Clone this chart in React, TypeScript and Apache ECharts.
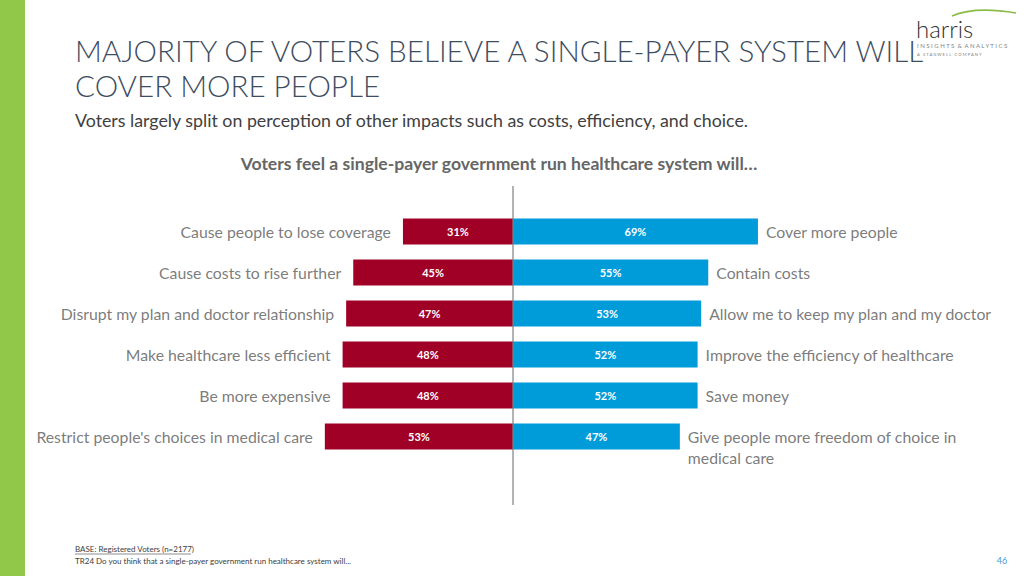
import React, { useEffect, useRef } from "react";
import * as echarts from "echarts";

const leftLabels = [
  "Cause people to lose coverage",
  "Cause costs to rise further",
  "Disrupt my plan and doctor relationship",
  "Make healthcare less efficient",
  "Be more expensive",
  "Restrict people's choices in medical care",
];
const rightLabels = [
  "Cover more people",
  "Contain costs",
  "Allow me to keep my plan and my doctor",
  "Improve the efficiency of healthcare",
  "Save money",
  "Give people more freedom of choice in\nmedical care",
];
const negativeValues = [31, 45, 47, 48, 48, 53];
const positiveValues = [69, 55, 53, 52, 52, 47];

const TITLE_1 = "MAJORITY OF VOTERS BELIEVE A SINGLE-PAYER SYSTEM WILL";
const TITLE_2 = "COVER MORE PEOPLE";
const SUBTITLE = "Voters largely split on perception of other impacts such as costs, efficiency, and choice.";
const CHART_TITLE = "Voters feel a single-payer government run healthcare system will…";
const BASE_NOTE = "BASE: Registered Voters (n=2177)";
const QUESTION_NOTE = "TR24 Do you think that a single-payer government run healthcare system will...";
const PAGE_NO = "46";

const FONT = "Lato, 'Open Sans', sans-serif";
const RED = "#A00026";
const BLUE = "#009CDA";
const GREY_TXT = "#595959";

const X_MIN = -100;
const X_MAX = 100;
const GRID_LEFT = 158;
const GRID_RIGHT = 156;
const W = 1024;
const H = 576;

export default function App() {
  const ref = useRef<HTMLDivElement>(null);
  useEffect(() => {
    if (!ref.current) return;
    const chart = echarts.init(ref.current, undefined, { renderer: "svg" });
    const plotW = W - GRID_LEFT - GRID_RIGHT;
    const zeroX = GRID_LEFT + ((0 - X_MIN) / (X_MAX - X_MIN)) * plotW;
    const cats = leftLabels.map((_, i) => String(i));

    chart.setOption({
      animation: false,
      backgroundColor: "#ffffff",
      grid: { left: GRID_LEFT, right: GRID_RIGHT, top: 211, bottom: 119 },
      xAxis: {
        type: "value",
        min: X_MIN,
        max: X_MAX,
        show: false,
      },
      yAxis: {
        type: "category",
        data: cats,
        inverse: true,
        show: false,
      },
      series: [
        {
          type: "bar",
          name: "neg",
          stack: "s",
          barWidth: 26,
          data: negativeValues.map((v) => -v),
          itemStyle: { color: RED },
          label: {
            show: true,
            position: "inside",
            color: "#fff",
            fontWeight: "bold",
            fontSize: 11,
            fontFamily: FONT,
            formatter: (p: any) => Math.abs(p.value) + "%",
          },
        },
        {
          type: "bar",
          name: "pos",
          stack: "s",
          barWidth: 26,
          data: positiveValues,
          itemStyle: { color: BLUE },
          label: {
            show: true,
            position: "inside",
            color: "#fff",
            fontWeight: "bold",
            fontSize: 11,
            fontFamily: FONT,
            formatter: (p: any) => p.value + "%",
          },
        },
        {
          type: "scatter",
          symbolSize: 0,
          silent: true,
          data: negativeValues.map((v, i) => [-v, i]),
          label: {
            show: true,
            position: "left",
            distance: 12,
            color: GREY_TXT,
            fontSize: 15.8,
            fontFamily: FONT,
            formatter: (p: any) => leftLabels[p.dataIndex],
          },
        },
        {
          type: "scatter",
          symbolSize: 0,
          silent: true,
          data: positiveValues.map((v, i) => {
            const multi = rightLabels[i].includes("\n");
            return multi
              ? { value: [v, i], label: { offset: [0, 10] } }
              : { value: [v, i] };
          }),
          label: {
            show: true,
            position: "right",
            distance: 8,
            align: "left",
            color: GREY_TXT,
            fontSize: 15.8,
            lineHeight: 21,
            fontFamily: FONT,
            formatter: (p: any) => rightLabels[p.dataIndex],
          },
        },
      ],
      graphic: [
        { type: "rect", shape: { x: 0, y: 0, width: 25, height: H }, style: { fill: "#92C84A" } },
        {
          type: "line",
          shape: { x1: zeroX, y1: 186, x2: zeroX, y2: 505 },
          style: { stroke: "#808080", lineWidth: 1.2 },
          z: 10,
        },
        {
          type: "text",
          x: 75,
          y: 50,
          style: { text: TITLE_1, font: `300 29.6px ${FONT}`, fill: "#3E4C60", verticalAlign: "middle" },
        },
        {
          type: "text",
          x: 75,
          y: 85,
          style: { text: TITLE_2, font: `300 29.6px ${FONT}`, fill: "#3E4C60", verticalAlign: "middle" },
        },
        {
          type: "text",
          x: 75,
          y: 120,
          style: { text: SUBTITLE, font: `17.8px ${FONT}`, fill: "#404040", verticalAlign: "middle" },
        },
        {
          type: "text",
          x: 499,
          y: 163,
          style: {
            text: CHART_TITLE,
            font: `bold 17.6px ${FONT}`,
            fill: "#666666",
            align: "center",
            verticalAlign: "middle",
          },
        },
        {
          type: "text",
          x: 75,
          y: 549,
          style: { text: BASE_NOTE, font: `8px ${FONT}`, fill: "#404040", verticalAlign: "middle" },
        },
        {
          type: "line",
          shape: { x1: 75, y1: 554, x2: 191, y2: 554 },
          style: { stroke: "#404040", lineWidth: 0.6 },
        },
        {
          type: "text",
          x: 75,
          y: 561,
          style: { text: QUESTION_NOTE, font: `8px ${FONT}`, fill: "#404040", verticalAlign: "middle" },
        },
        {
          type: "text",
          x: 1002,
          y: 560,
          style: { text: PAGE_NO, font: `9px ${FONT}`, fill: "#3E9BD4", align: "center", verticalAlign: "middle" },
        },
        // logo
        {
          type: "group",
          z: 20,
          children: [
            { type: "rect", shape: { x: 917, y: 4, width: 107, height: 56 }, style: { fill: "#ffffff" } },
            {
              type: "bezierCurve",
              shape: { x1: 952, y1: 16, cpx1: 975, cpy1: 6, x2: 1016, y2: 13 },
              style: { stroke: "#8DBB4A", lineWidth: 1.6, fill: "none" },
            },
            {
              type: "text",
              x: 916,
              y: 28,
              style: { text: "harris", font: `300 24px ${FONT}`, fill: "#333333", verticalAlign: "middle" },
            },
            {
              type: "text",
              x: 917,
              y: 45,
              style: { text: "I N S I G H T S  &  A N A L Y T I C S", font: `6px ${FONT}`, fill: "#7f7f7f", verticalAlign: "middle" },
            },
            {
              type: "text",
              x: 917,
              y: 54,
              style: { text: "A   S T A G W E L L   C O M P A N Y", font: `4.2px ${FONT}`, fill: "#7f7f7f", verticalAlign: "middle" },
            },
          ],
        },
      ],
    });
    return () => chart.dispose();
  }, []);
  return <div ref={ref} style={{ position: "fixed", left: 0, top: 0, width: W, height: H }} />;
}
